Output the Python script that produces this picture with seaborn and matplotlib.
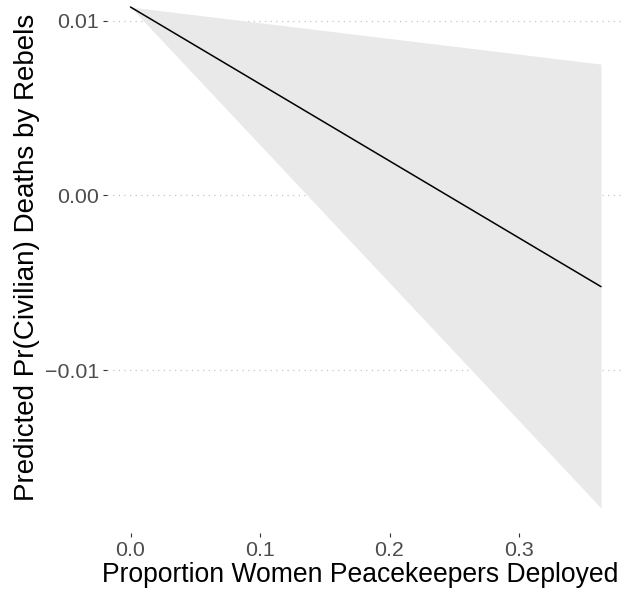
import matplotlib
matplotlib.use("Agg")
import matplotlib.pyplot as plt
import seaborn as sns
import pandas as pd

# Predicted values across the share of women peacekeepers
prop_women = [0.0, 0.3633]
predicted = [0.01077, -0.00521]
ci_lower = [0.01077, -0.01786]
ci_upper = [0.01077, 0.00751]

y_ticks = [-0.01, 0.00, 0.01]
y_tick_labels = ["\u22120.01", "0.00", "0.01"]
x_ticks = [0.0, 0.1, 0.2, 0.3]
x_tick_labels = ["0.0", "0.1", "0.2", "0.3"]

df = pd.DataFrame({"prop": prop_women, "pred": predicted,
                   "lo": ci_lower, "hi": ci_upper})

sns.set_theme(style="white")
plt.rcParams["font.family"] = ["Liberation Sans", "DejaVu Sans"]

fig = plt.figure(figsize=(6.29, 5.96), dpi=100)
ax = fig.add_axes([107 / 629, 63 / 596, 517.5 / 629, 551 / 596])

# confidence band and fitted line
ax.fill_between(df["prop"], df["lo"], df["hi"], color="#E9E9E9", lw=0, zorder=1)
sns.lineplot(data=df, x="prop", y="pred", ax=ax, color="black", lw=1.1, zorder=3)

# ggplot-style 5% expansion around the data
xr = max(prop_women) - min(prop_women)
ax.set_xlim(min(prop_women) - 0.05 * xr, max(prop_women) + 0.05 * xr)
ymin, ymax = min(ci_lower), max(ci_upper + predicted)
yr = ymax - ymin
ax.set_ylim(ymin - 0.05 * yr, ymax + 0.05 * yr)

ax.set_yticks(y_ticks)
ax.set_yticklabels(y_tick_labels)
ax.set_xticks(x_ticks)
ax.set_xticklabels(x_tick_labels)

# dotted horizontal grid at the major y ticks
for y in y_ticks:
    ax.axhline(y, color="#C4C4C4", lw=0.9, linestyle=(0, (1, 3.5)), zorder=0)

for s in ax.spines.values():
    s.set_visible(False)

ax.tick_params(axis="both", which="major", length=3, width=0.8, color="#333333",
               labelsize=15.4, labelcolor="#4D4D4D", pad=2.5,
               bottom=True, left=True)

ax.set_xlabel("Proportion Women Peacekeepers Deployed", fontsize=19.1,
              color="black")
ax.xaxis.set_label_coords(0.4895, -0.0535)
ax.xaxis.label.set_va("top")
ax.set_ylabel("Predicted Pr(Civilian) Deaths by Rebels", fontsize=20.0,
              color="black", labelpad=4)

fig.savefig("out.png", dpi=100)
